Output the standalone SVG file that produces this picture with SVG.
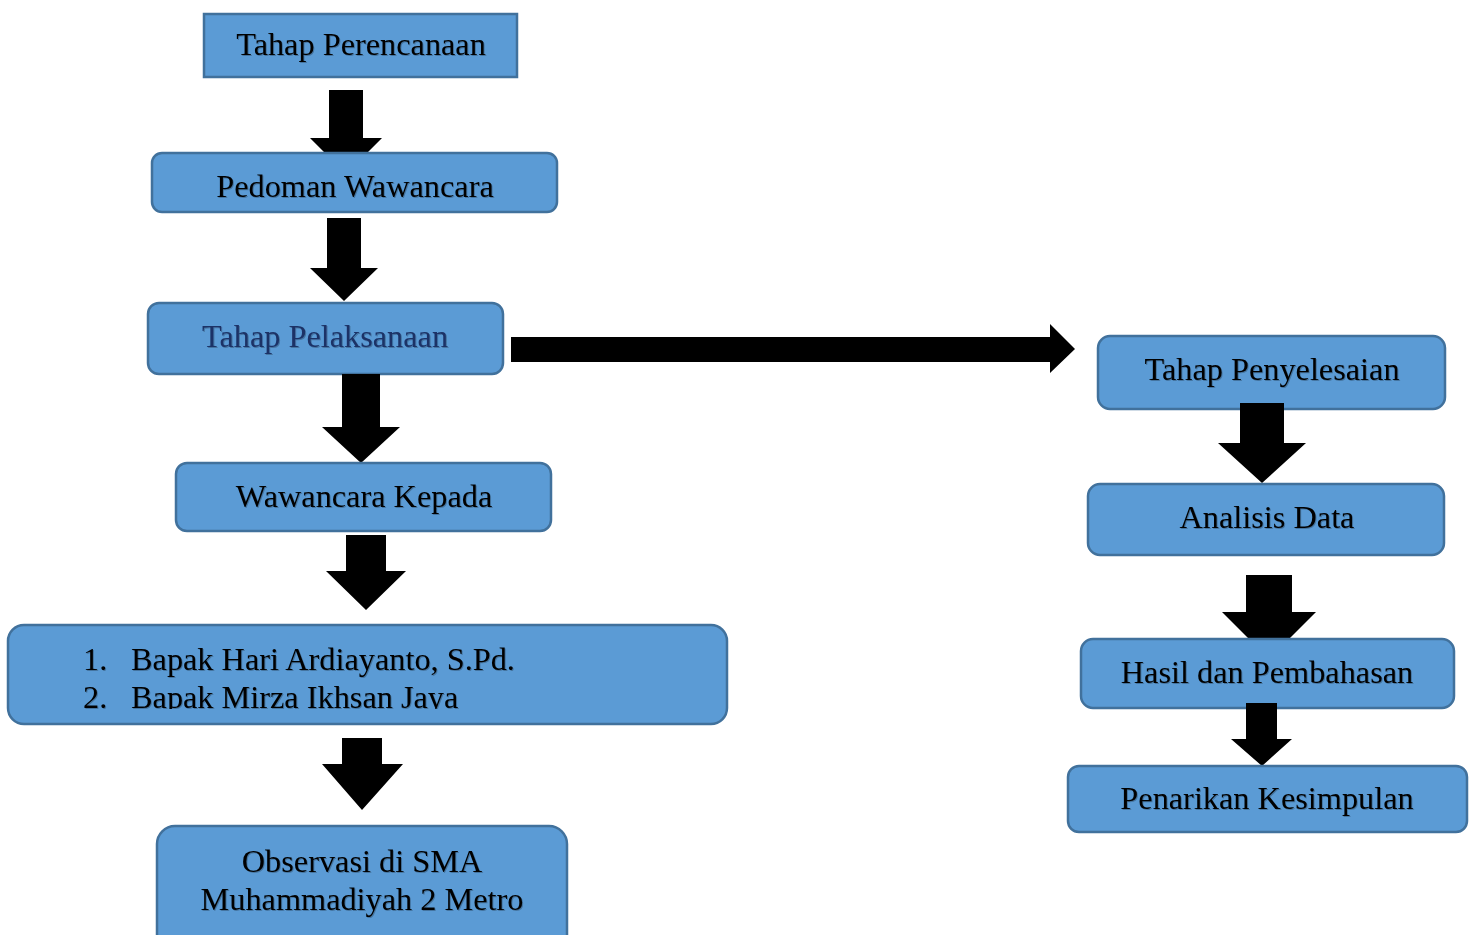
<svg xmlns="http://www.w3.org/2000/svg" width="1474" height="935" viewBox="0 0 1474 935">
<style>
.box{fill:#5b9bd5;stroke:#41719c;stroke-width:2.5}
.t{font-family:"Liberation Serif","Times New Roman",serif;font-size:32.3px;fill:#000;filter:url(#sh)}
.c{text-anchor:middle}
.arr{fill:#000}
</style>
<defs>
<filter id="sh" x="-5%" y="-20%" width="110%" height="140%">
<feDropShadow dx="1" dy="1" stdDeviation="0.7" flood-color="#000" flood-opacity="0.25"/>
</filter>
<clipPath id="listclip"><rect x="0" y="630" width="740" height="79"/></clipPath>
</defs>
<rect width="1474" height="935" fill="#fff"/>
<g id="connectors">
<polygon class="arr" points="329,90 363,90 363,138 382,138 367,153 325,153 310,138 329,138"/>
<polygon class="arr" points="327,218 361,218 361,268 378,268 344,301 310,268 327,268"/>
<polygon class="arr" points="342,372 380,372 380,427 400,427 361,463 322,427 342,427"/>
<polygon class="arr" points="346,535 386,535 386,571 406,571 366,610 326,571 346,571"/>
<polygon class="arr" points="342,738 382,738 382,764 403,764 362,810 322,764 342,764"/>
<polygon class="arr" points="511,337 1050,337 1050,324 1075,349 1050,373 1050,362 511,362"/>
<polygon class="arr" points="1240,403 1284,403 1284,443 1306,443 1262,483 1218,443 1240,443"/>
<polygon class="arr" points="1246,575 1292,575 1292,612 1316,612 1289,639 1249,639 1222,612 1246,612"/>
<polygon class="arr" points="1246,703 1277,703 1277,739 1292,739 1262,766 1231,739 1246,739"/>
</g>
<g id="n-perencanaan">
<rect class="box" x="204" y="14" width="313" height="63"/>
<text class="t c" x="361" y="55">Tahap Perencanaan</text>
</g>
<g id="n-pedoman">
<rect class="box" x="152" y="153" width="405" height="59" rx="10"/>
<text class="t c" x="355" y="197">Pedoman Wawancara</text>
</g>
<g id="n-pelaksanaan">
<rect class="box" x="148" y="303" width="355" height="71" rx="11"/>
<text class="t c" x="325" y="347" style="fill:#1c3366">Tahap Pelaksanaan</text>
</g>
<polygon class="arr" points="342,374 380,374 380,380 342,380"/>
<g id="n-wawancara">
<rect class="box" x="176" y="463" width="375" height="68" rx="11"/>
<text class="t c" x="364" y="507">Wawancara Kepada</text>
</g>
<g id="n-narasumber">
<rect class="box" x="8" y="625" width="719" height="99" rx="16"/>
<g clip-path="url(#listclip)">
<text class="t" x="83" y="670">1.</text>
<text class="t" x="131" y="670">Bapak Hari Ardiayanto, S.Pd.</text>
<text class="t" x="83" y="708">2.</text>
<text class="t" x="131" y="708">Bapak Mirza Ikhsan Jaya</text>
</g>
</g>
<g id="n-observasi">
<rect class="box" x="157" y="826" width="410" height="130" rx="18"/>
<text class="t c" x="362" y="872">Observasi di SMA</text>
<text class="t c" x="362" y="910">Muhammadiyah 2 Metro</text>
</g>
<g id="n-penyelesaian">
<rect class="box" x="1098" y="336" width="347" height="73" rx="12"/>
<text class="t c" x="1272" y="380">Tahap Penyelesaian</text>
</g>
<polygon class="arr" points="1240,403 1284,403 1284,411 1240,411"/>
<g id="n-analisis">
<rect class="box" x="1088" y="484" width="356" height="71" rx="12"/>
<text class="t c" x="1267" y="528">Analisis Data</text>
</g>
<g id="n-hasil">
<rect class="box" x="1081" y="639" width="373" height="69" rx="12"/>
<text class="t c" x="1267" y="683">Hasil dan Pembahasan</text>
</g>
<polygon class="arr" points="1246,703 1277,703 1277,710 1246,710"/>
<g id="n-penarikan">
<rect class="box" x="1068" y="766" width="399" height="66" rx="11"/>
<text class="t c" x="1267" y="809">Penarikan Kesimpulan</text>
</g>
</svg>
